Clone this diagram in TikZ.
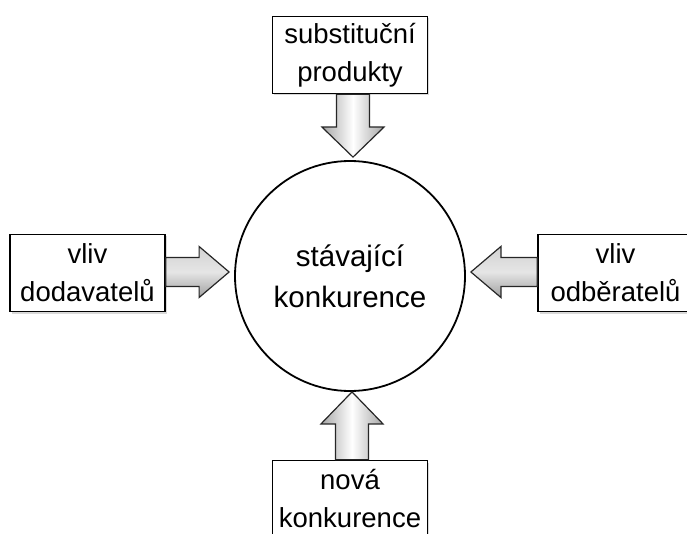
\documentclass[tikz,border=0pt]{standalone}
\usepackage{fontspec}
\setmainfont{Liberation Sans}
\usetikzlibrary{shadows,calc}
\begin{document}
\begin{tikzpicture}[x=1pt,y=-1pt,
  box/.style={draw=black, line width=1.4pt, fill=white, minimum width=155pt, minimum height=77pt,
    inner sep=0pt, align=center, font=\fontsize{27.5}{38}\selectfont,
    drop shadow={shadow xshift=1.5pt, shadow yshift=-2pt, opacity=0.3}},
  hub/.style={draw=black, line width=1.8pt, circle, fill=white, minimum size=230pt, inner sep=0pt,
    align=center, font=\fontsize{29.5}{41}\selectfont},
  arrowV/.style={draw=black!85, line width=1.2pt, line join=miter, left color=gray!70, right color=gray!70, middle color=white},
  arrowH/.style={draw=black!85, line width=1.2pt, line join=miter, top color=gray!35, bottom color=gray!75, middle color=gray!20}
]
\useasboundingbox (0,0) rectangle (687,534);
\clip (0,0) rectangle (687,534);

\node[hub] (circ) at (350,276) {stávající\\konkurence};
\node[box] (sub) at (350,55) {substituční\\produkty};
\node[box] (dod) at (87.5,273) {vliv\\dodavatelů};
\node[box] (odb) at (615.5,273) {vliv\\odběratelů};
\node[box] (nova) at (350,499) {nová\\konkurence};

% top arrow (down)
\path[arrowV] let \p1=($(sub.south)+(3,0)$), \p2=($(circ.north)+(3,-3)$) in
  (\x1-16.5pt,\y1) -- (\x1-16.5pt,\y2+30pt) -- (\x2-31pt,\y2+30pt) -- (\p2)
  -- (\x2+31pt,\y2+30pt) -- (\x1+16.5pt,\y2+30pt) -- (\x1+16.5pt,\y1) -- cycle;
% bottom arrow (up)
\path[arrowV] let \p1=($(nova.north)+(2,0)$), \p2=($(circ.south)+(2,0)$) in
  (\x1-16.5pt,\y1) -- (\x1-16.5pt,\y2-32pt) -- (\x2-31pt,\y2-32pt) -- (\p2)
  -- (\x2+31pt,\y2-32pt) -- (\x1+16.5pt,\y2-32pt) -- (\x1+16.5pt,\y1) -- cycle;
% left arrow (right)
\path[arrowH] let \p1=($(dod.east)+(0,0)$), \p2=($(circ.west)+(-5,-4)$) in
  (\x1,\y2+14.5pt) -- (\x2-30pt,\y2+14.5pt) -- (\x2-30pt,\y2+25.5pt) -- (\p2)
  -- (\x2-30pt,\y2-25.5pt) -- (\x2-30pt,\y2-14.5pt) -- (\x1,\y2-14.5pt) -- cycle;
% right arrow (left)
\path[arrowH] let \p1=($(odb.west)+(0,0)$), \p2=($(circ.east)+(5,-4)$) in
  (\x1,\y2+14.5pt) -- (\x2+30pt,\y2+14.5pt) -- (\x2+30pt,\y2+25.5pt) -- (\p2)
  -- (\x2+30pt,\y2-25.5pt) -- (\x2+30pt,\y2-14.5pt) -- (\x1,\y2-14.5pt) -- cycle;
\end{tikzpicture}
\end{document}
